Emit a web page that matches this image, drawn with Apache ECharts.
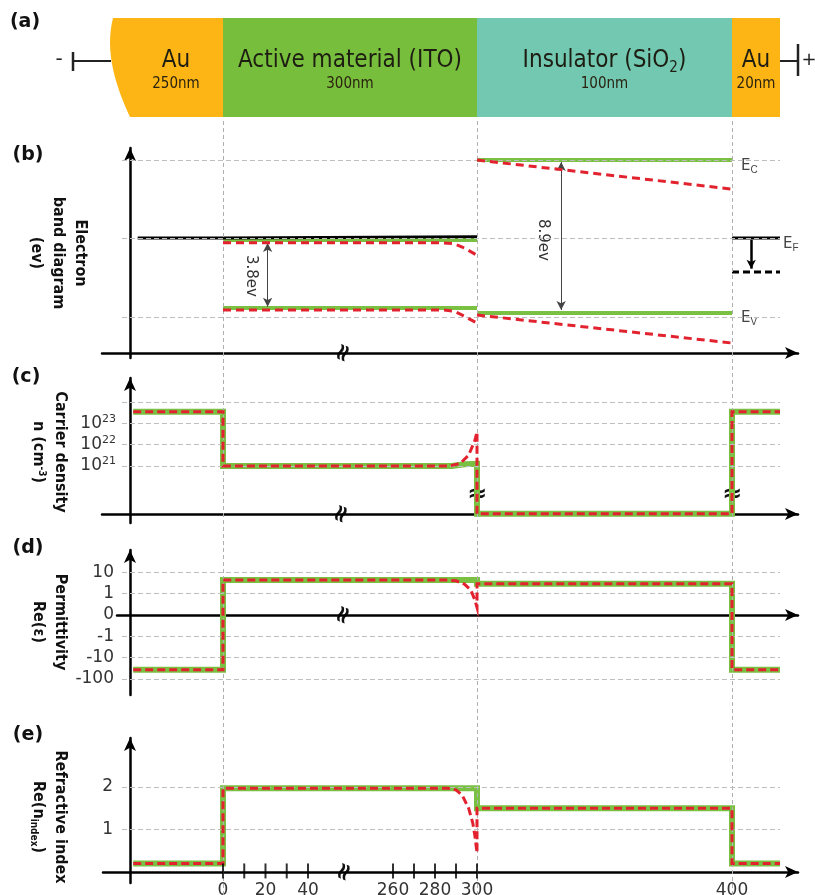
<!DOCTYPE html>
<html><head><meta charset="utf-8">
<script src="https://cdn.jsdelivr.net/npm/echarts@6/dist/echarts.min.js"></script>
<style>html,body{margin:0;padding:0;background:#fff}#c{width:815px;height:895px}</style>
</head><body><div id="c"></div>
<script>
// ---------------- DATA ----------------
// (a) layer stack
const layerNames = ['Au', 'Active material (ITO)', 'Insulator (SiO{s|2})', 'Au'];
const layerThickness = ['250nm', '300nm', '100nm', '20nm'];
const layerStartNm = [-49, 0, 300, 400];
const layerEndNm = [0, 300, 400, 420];
const layerColors = ['#FDB515', '#78BE3D', '#72C8B1', '#FDB515'];

// (b) electron band diagram, eV relative to E_F  [nm, eV]
const bEfLeft = [[-38, 0], [0, 0], [0, 0.08], [300, 0.08]];
const bEfRight = [[400, 0], [420, 0]];
const bEfShifted = [[400, -1.98], [420, -1.98]];
const bEcItoGreen = [[0, -0.12], [300, -0.12]];
const bEvItoGreen = [[0, -4.07], [300, -4.07]];
const bEcSioGreen = [[300, 4.54], [400, 4.54]];
const bEvSioGreen = [[300, -4.36], [400, -4.36]];
const bEcItoRed = [[0, -0.28], [284, -0.28], [289, -0.33], [294, -0.58], [300, -1.0]];
const bEvItoRed = [[0, -4.19], [284, -4.19], [289, -4.25], [294, -4.55], [300, -4.95]];
const bEcSioRed = [[300, 4.54], [400, 2.85]];
const bEvSioRed = [[300, -4.48], [400, -6.11]];
const bGapIto = [21, -0.29, -4.0];   // nm, top eV, bottom eV
const bGapSio = [333, 4.42, -4.19];
const bEfArrow = [408, -0.1, -1.78];
const bGridEv = [4.54, 0, -4.6];

// (c) carrier density, log10(n / cm^-3)  [nm, exponent]
const cGreen = [[-40, 23.55], [0, 23.55], [0, 21.0], [288, 21.0], [294, 21.08], [300, 21.1], [300, 18.75], [400, 18.75], [400, 23.55], [420, 23.55]];
const cRed = [[-40, 23.55], [0, 23.55], [0, 21.0], [287, 21.0], [292, 21.12], [296, 21.5], [299, 22.2], [300, 22.6], [300, 18.75], [400, 18.75], [400, 23.55], [420, 23.55]];
const cTickExp = [21, 22, 23];
const cGridExp = [21, 22, 23, 24];

// (d) permittivity Re(eps)  [nm, value]
const dGreen = [[-40, -38], [0, -38], [0, 4.4], [300, 4.4], [300, 2.9], [400, 2.9], [400, -38], [420, -38]];
const dRed = [[-40, -38], [0, -38], [0, 4.4], [285, 4.4], [290, 4.0], [294, 2.8], [297, 1.5], [299, 0.7], [300, 0.35], [300, 2.9], [400, 2.9], [400, -38], [420, -38]];
const dTickVals = [10, 1, 0, -1, -10, -100];
const dGridVals = [10, 1, -1, -10, -100];

// (e) refractive index Re(n)  [nm, value]
const eGreen = [[-40, 0.2], [0, 0.2], [0, 1.97], [300, 1.97], [300, 1.5], [400, 1.5], [400, 0.2], [420, 0.2]];
const eRed = [[-40, 0.2], [0, 0.2], [0, 1.97], [286, 1.97], [290, 1.93], [293, 1.8], [296, 1.5], [298, 1.15], [299, 0.85], [300, 0.45], [300, 1.5], [400, 1.5], [400, 0.2], [420, 0.2]];
const eTickVals = [1, 2];
const eGridVals = [1, 2];
const xTickNm = [0, 10, 20, 30, 40, 260, 270, 280, 290, 300];
const xLabelNm = [0, 20, 40, 260, 280, 300, 400];
const interfaceNm = [0, 300, 400];

// ---------------- SCALES ----------------
// broken (schematic) thickness axis: nm -> axis units
const KN = [-49, 0, 45, 255, 300, 400, 420];
const KU = [-17, 93, 188.6, 252.5, 347, 602, 650];
function xu(nm) {
  let i = 0;
  while (i < KN.length - 2 && nm > KN[i + 1]) i++;
  return KU[i] + (nm - KN[i]) * (KU[i + 1] - KU[i]) / (KN[i + 1] - KN[i]);
}
function nmOf(u) {
  let i = 0;
  while (i < KU.length - 2 && u > KU[i + 1] + 1e-9) i++;
  return KN[i] + (u - KU[i]) * (KN[i + 1] - KN[i]) / (KU[i + 1] - KU[i]);
}
const symlog = v => Math.abs(v) < 1 ? v : Math.sign(v) * (1 + Math.log10(Math.abs(v)));
const symexp = u => Math.abs(u) < 1 ? u : Math.sign(u) * Math.pow(10, Math.abs(u) - 1);
const P = (arr, f) => arr.map(([n, v]) => [xu(n), f ? f(v) : v]);

// ---------------- STYLE ----------------
const SANS = '"DejaVu Sans", Verdana, sans-serif';
const COND = '"DejaVu Sans Condensed", "DejaVu Sans", sans-serif';
const NARROW = '"Liberation Sans Narrow", "DejaVu Sans Condensed", "Liberation Sans", sans-serif';
const GREEN = '#7AC043', RED = '#E2232F', GRID = '#BDBDBD';
const lefts = [102, 102, 102, 102, 117, 103];

function line(gi, data, color, width, type, z) {
  return { type: 'line', xAxisIndex: gi, yAxisIndex: gi, data, symbol: 'none', showSymbol: false,
    silent: true, animation: false, z: z || 3,
    lineStyle: { color, width, type: type || 'solid', cap: 'butt', join: 'miter' } };
}
function gridLines(gi, vals) {
  return { type: 'line', xAxisIndex: gi, yAxisIndex: gi, data: [], z: 1, silent: true,
    markLine: { silent: true, symbol: ['none', 'none'], animation: false, label: { show: false },
      lineStyle: { color: GRID, width: 1, type: [5, 3] },
      data: vals.map(v => [{ coord: [-8, v] }, { coord: [650, v] }]) } };
}
function arrow(gi, x, y1, y2, syms, color, width) {
  return { type: 'line', xAxisIndex: gi, yAxisIndex: gi, data: [], z: 6, silent: true,
    markLine: { silent: true, symbol: syms, symbolSize: [7, 9], animation: false, label: { show: false },
      lineStyle: { color, width, type: 'solid' },
      data: [[{ coord: [xu(x), y1] }, { coord: [xu(x), y2] }]] } };
}
const axLine = (onZero) => ({ show: true, onZero, symbol: ['none', 'arrow'], symbolSize: [9, 13],
  lineStyle: { color: '#000', width: 2.5 } });

function xAx(i, visible, extra) {
  return Object.assign({ gridIndex: i, type: 'value', min: -(130 - lefts[i]), max: 668,
    axisLine: visible ? axLine(true) : { show: false }, axisTick: { show: false },
    axisLabel: { show: false }, splitLine: { show: false } }, extra || {});
}
function yAx(i, min, max, visible, extra) {
  return Object.assign({ gridIndex: i, type: 'value', min, max, offset: -(130 - lefts[i]),
    axisLine: visible ? axLine(false) : { show: false }, axisTick: { show: false },
    axisLabel: { show: false }, splitLine: { show: false } }, extra || {});
}
const tickLabel = { show: true, fontFamily: SANS, fontSize: 17, color: '#333' };

// ---------------- SERIES ----------------
const series = [];
// vertical interface guides
series.push({ type: 'line', xAxisIndex: 0, yAxisIndex: 0, data: [], z: 1, silent: true,
  markLine: { silent: true, symbol: ['none', 'none'], animation: false, label: { show: false },
    lineStyle: { color: '#AFAFAF', width: 1, type: [4, 3] },
    data: interfaceNm.map(n => ({ xAxis: xu(n) })) } });

// (a) layers
series.push({ type: 'custom', xAxisIndex: 1, yAxisIndex: 1, silent: true, animation: false, z: 2,
  data: layerStartNm.map((s, i) => [xu(s), xu(layerEndNm[i]), i]),
  renderItem(params, api) {
    const i = api.value(2);
    const p0 = api.coord([api.value(0), 1]);
    const p1 = api.coord([api.value(1), 0]);
    const x0 = p0[0], yT = p0[1], x1 = p1[0], yB = p1[1];
    let shape;
    if (i === 0) {
      shape = { type: 'path', shape: { pathData:
        `M${x0} ${yT} L${x1} ${yT} L${x1} ${yB} L${x0 + 17} ${yB} C${x0 + 4} ${yB - 28} ${x0 - 9} ${yT + 35} ${x0} ${yT} Z` },
        style: { fill: layerColors[i] } };
    } else {
      shape = { type: 'rect', shape: { x: x0, y: yT, width: x1 - x0, height: yB - yT }, style: { fill: layerColors[i] } };
    }
    const cx = (x0 + x1) / 2 + (i === 0 ? 8 : 0);
    return { type: 'group', children: [
      shape,
      { type: 'text', style: { text: layerNames[i], x: cx, y: yT + 43, align: 'center', verticalAlign: 'middle',
        fontFamily: NARROW, fontSize: 24, fill: '#1d1d12',
        rich: { s: { fontFamily: NARROW, fontSize: 15, fill: '#1d1d12', padding: [14, 0, 0, 0] } } } },
      { type: 'text', style: { text: layerThickness[i], x: cx, y: yT + 66, align: 'center', verticalAlign: 'middle',
        fontFamily: NARROW, fontSize: 15, fill: '#2a2210' } }
    ] };
  } });

// (b)
series.push(gridLines(2, bGridEv));
[bEcItoGreen, bEvItoGreen, bEcSioGreen, bEvSioGreen].forEach(d => series.push(line(2, P(d), GREEN, 4, 'solid', 3)));
series.push(line(2, P(bEfLeft), '#000', 3, 'solid', 4));
series.push(line(2, P(bEfRight), '#000', 3, 'solid', 4));
series.push(line(2, P(bEfShifted), '#000', 3, [7, 4], 4));
[bEcItoRed, bEvItoRed, bEcSioRed, bEvSioRed].forEach(d => series.push(line(2, P(d), RED, 3, [8, 5], 5)));
series.push(arrow(2, bGapIto[0], bGapIto[1], bGapIto[2], ['arrow', 'arrow'], '#444', 1));
series.push(arrow(2, bGapSio[0], bGapSio[1], bGapSio[2], ['arrow', 'arrow'], '#444', 1));
series.push(arrow(2, bEfArrow[0], bEfArrow[1], bEfArrow[2], ['none', 'arrow'], '#000', 2.5));

// (c)
series.push(gridLines(3, cGridExp));
series.push(line(3, P(cGreen), GREEN, 6, 'solid', 3));
series.push(line(3, P(cRed), RED, 3, [8, 4], 5));

// (d)
series.push(gridLines(4, dGridVals.map(symlog)));
series.push(line(4, P(dGreen, symlog), GREEN, 6, 'solid', 3));
series.push(line(4, P(dRed, symlog), RED, 3, [8, 4], 5));

// (e)
series.push(gridLines(5, eGridVals));
series.push(line(5, P(eGreen), GREEN, 6, 'solid', 3));
series.push(line(5, P(eRed), RED, 3, [8, 4], 5));
series.push({ type: 'scatter', xAxisIndex: 5, yAxisIndex: 5, silent: true, animation: false, z: 6,
  data: xTickNm.map(n => [xu(n), 0]), symbol: 'rect', symbolSize: [2, 15], symbolOffset: [0, -1],
  itemStyle: { color: '#000' } });

// ---------------- TEXT DECORATION ----------------
const T = (x, y, text, o) => Object.assign({ type: 'text', x, y, silent: true,
  style: Object.assign({ text, align: 'center', verticalAlign: 'middle', textAlign: 'center', textVerticalAlign: 'middle',
    fontFamily: SANS, fontSize: 16, fill: '#111' }, (o && o.style) || {}) }, o ? { rotation: o.rotation || 0 } : {});
const L = (x1, y1, x2, y2, w) => ({ type: 'line', silent: true, shape: { x1, y1, x2, y2 }, style: { stroke: '#222', lineWidth: w } });
const bold = { fontWeight: 'bold', fontFamily: SANS, fontSize: 19, fill: '#111' };
const ytitle = { fontWeight: 'bold', fontFamily: COND, fontSize: 16, fill: '#111', lineHeight: 22 };
const brk = { fontFamily: SANS, fontSize: 24, fill: '#111', fontWeight: 'bold' };
const sub = { s: { fontSize: 10, fill: '#444', padding: [9, 0, 0, 0] } };

const graphics = [
  T(25, 22, '(a)', { style: bold }), T(28, 155, '(b)', { style: bold }), T(26, 377, '(c)', { style: bold }),
  T(28, 548, '(d)', { style: bold }), T(28, 735, '(e)', { style: bold }),
  // terminals
  T(59, 60, '-', { style: { fontSize: 20, fill: '#222' } }), L(73, 52, 73, 71, 2.5), L(73, 61, 111, 61, 2),
  L(780, 61, 798, 61, 2), L(798, 44, 798, 76, 2.5), T(809, 60, '+', { style: { fontSize: 18, fill: '#222' } }),
  // y titles
  T(58, 253, 'Electron\nband diagram\n(ev)', { rotation: -Math.PI / 2, style: ytitle }),
  T(49, 452, 'Carrier density\nn (cm{p|-3})', { rotation: -Math.PI / 2, style: Object.assign({}, ytitle, { rich: { p: { fontSize: 10, fontWeight: 'bold', fontFamily: COND, padding: [0, 0, 8, 0] } } }) }),
  T(49, 622, 'Permittivity\nRe(ε)', { rotation: -Math.PI / 2, style: ytitle }),
  T(49, 817, 'Refractive index\nRe(n{q|index})', { rotation: -Math.PI / 2, style: Object.assign({}, ytitle, { rich: { q: { fontSize: 10, fontWeight: 'bold', fontFamily: COND, padding: [8, 0, 0, 0] } } }) }),
  // band annotations
  T(251, 276, '3.8ev', { rotation: -Math.PI / 2, style: { fontSize: 15, fill: '#333' } }),
  T(543, 240, '8.9ev', { rotation: -Math.PI / 2, style: { fontSize: 15, fill: '#333' } }),
  T(741, 166, 'E{s|C}', { style: { align: 'left', textAlign: 'left', fontSize: 15, fill: '#444', rich: sub } }),
  T(783, 244, 'E{s|F}', { style: { align: 'left', textAlign: 'left', fontSize: 15, fill: '#444', rich: sub } }),
  T(741, 318, 'E{s|V}', { style: { align: 'left', textAlign: 'left', fontSize: 15, fill: '#444', rich: sub } }),
  // axis breaks
  T(344, 353, '≈', { rotation: 1.2, style: brk }),
  T(342, 514, '≈', { rotation: 1.2, style: brk }),
  T(344, 615, '≈', { rotation: 1.2, style: brk }),
  T(345, 872, '≈', { rotation: 1.2, style: brk }),
  T(477, 495, '≈', { style: brk }),
  T(732, 495, '≈', { style: brk })
];

// ---------------- OPTION ----------------
const G = (o) => Object.assign({ right: 17, outerBoundsMode: 'none', containLabel: false }, o);
const option = {
  animation: false,
  backgroundColor: '#fff',
  grid: [
    G({ left: lefts[0], top: 118, bottom: 0 }),
    G({ left: lefts[1], top: 18, height: 99 }),
    G({ left: lefts[2], top: 148, bottom: 895 - 358 }),
    G({ left: lefts[3], top: 378, bottom: 895 - 523 }),
    G({ left: lefts[4], top: 550, bottom: 895 - 695 }),
    G({ left: lefts[5], top: 738, bottom: 895 - 883 })
  ],
  xAxis: [
    xAx(0, false), xAx(1, false),
    xAx(2, true, { axisLine: axLine(false), offset: -5 }),
    xAx(3, true, { axisLine: axLine(false), offset: -9 }),
    xAx(4, true),
    xAx(5, true, { axisLabel: { show: true, customValues: xLabelNm.map(xu), formatter: v => String(Math.round(nmOf(v))),
      fontFamily: SANS, fontSize: 17, color: '#333', margin: -1 } })
  ],
  yAxis: [
    yAx(0, 0, 1, false), yAx(1, 0, 1, false),
    yAx(2, -6.98, 5.24, true),
    yAx(3, 18.32, 25.13, true, { axisLabel: Object.assign({}, tickLabel, { margin: 14, customValues: cTickExp,
      formatter: v => '10{p|' + Math.round(v) + '}', rich: { p: { fontFamily: SANS, fontSize: 11, color: '#333', padding: [0, 0, 9, 0] } } }) }),
    yAx(4, -3.76, 3.05, true, { axisLabel: Object.assign({}, tickLabel, { margin: 16, customValues: dTickVals.map(symlog),
      formatter: v => String(Math.round(symexp(v))) }) }),
    yAx(5, -0.26, 3.15, true, { axisLabel: Object.assign({}, tickLabel, { margin: 17, customValues: eTickVals,
      formatter: v => String(Math.round(v)) }) })
  ],
  series,
  graphic: graphics
};

const chart = echarts.init(document.getElementById('c'), null, { renderer: 'canvas', width: 815, height: 895 });
chart.setOption(option);
</script>
</body></html>
